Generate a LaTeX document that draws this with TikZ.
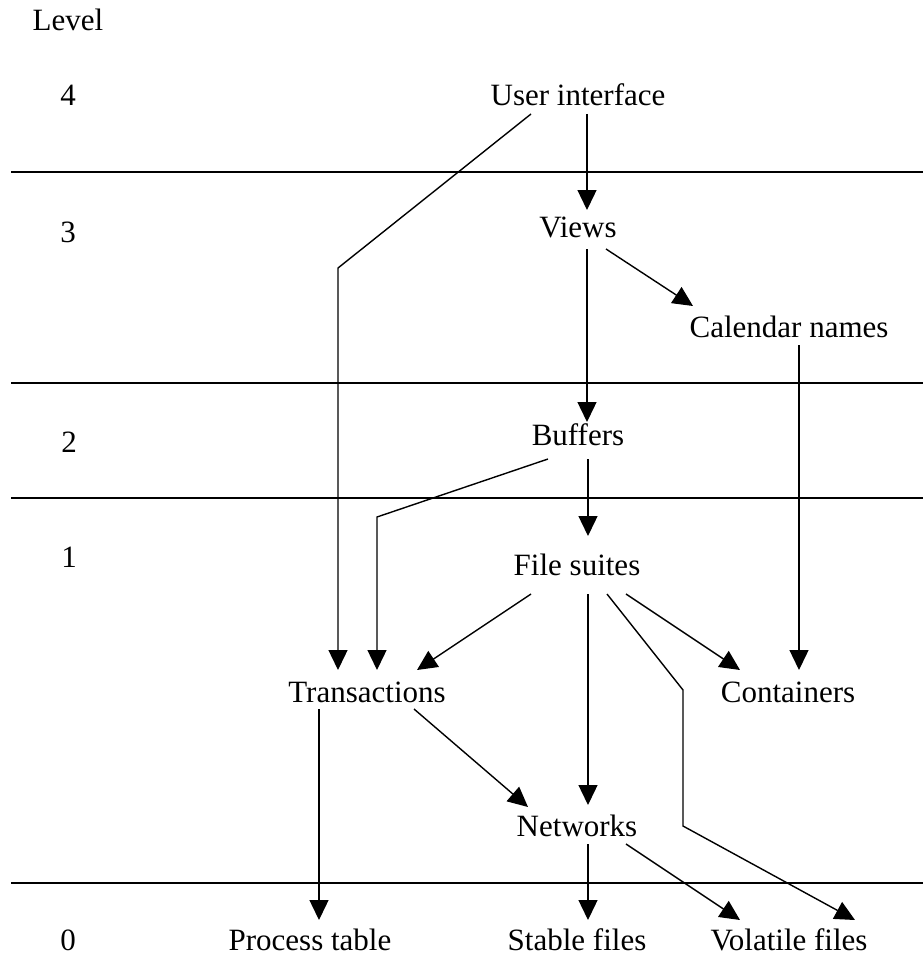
\documentclass[tikz,border=0pt]{standalone}
\usepackage{fontspec}
\setmainfont{Liberation Serif}
\usetikzlibrary{arrows.meta,calc}

\tikzset{
  lbl/.style={anchor=base,inner sep=0pt,font=\fontsize{31}{36}\selectfont},
  arr/.style={line width=1.4pt,-{Triangle[length=20pt,width=19pt]}},
  rule/.style={line width=1.4pt}
}

\begin{document}
\begin{tikzpicture}[x=1pt,y=-1pt]
        \useasboundingbox (0,0) rectangle (923,955);
        % level bands
        \foreach \y in {172,383,498,883}
          \draw[rule] (11,\y) -- (923,\y);
        \node[lbl] (level) at (68,31) {Level};
        \node[lbl] (lvfour) at (68,106) {4};
        \node[lbl] (lvthree) at (68,242) {3};
        \node[lbl] (lvtwo) at (69,452) {2};
        \node[lbl] (lvone) at (69,567) {1};
        \node[lbl] (lvzero) at (68,950) {0};
        % modules
        \node[lbl] (ui) at (578,106) {User interface};
        \node[lbl] (views) at (578,237) {Views};
        \node[lbl] (cal) at (789,337) {Calendar names};
        \node[lbl] (buf) at (578,445) {Buffers};
        \node[lbl] (fs) at (577,575) {File suites};
        \node[lbl] (trans) at (367,702) {Transactions};
        \node[lbl] (cont) at (788,702) {Containers};
        \node[lbl] (net) at (577,836) {Networks};
        \node[lbl] (proc) at (310,950) {Process table};
        \node[lbl] (stable) at (577,950) {Stable files};
        \node[lbl] (vol) at (789,950) {Volatile files};
        % bend points
        \coordinate (uibend) at (338,268);
        \coordinate (bufbend) at (377,517);
        \coordinate (fsbendA) at (683,690);
        \coordinate (fsbendB) at (683,826);
        % uses
        \draw[arr] ($(ui.base)+(9,8)$) -- ($(views.base)+(9,-27)$);
        \draw[arr] ($(ui.base)+(-47,8)$) -- (uibend) -- ($(trans.base)+(-29,-32)$);
        \draw[arr] ($(views.base)+(9,12)$) -- ($(buf.base)+(9,-23)$);
        \draw[arr] ($(views.base)+(28,12)$) -- ($(cal.base)+(-96,-31)$);
        \draw[arr] ($(buf.base)+(10,14)$) -- ($(fs.base)+(11,-39)$);
        \draw[arr] ($(buf.base)+(-30,14)$) -- (bufbend) -- ($(trans.base)+(10,-32)$);
        \draw[arr] ($(cal.base)+(10,8)$) -- ($(cont.base)+(11,-32)$);
        \draw[arr] ($(fs.base)+(-46,19)$) -- ($(trans.base)+(50,-32)$);
        \draw[arr] ($(fs.base)+(11,19)$) -- ($(net.base)+(11,-31)$);
        \draw[arr] ($(fs.base)+(49,19)$) -- ($(cont.base)+(-48,-32)$);
        \draw[arr] ($(fs.base)+(30,19)$) -- (fsbendA) -- (fsbendB) -- ($(vol.base)+(66,-30)$);
        \draw[arr] ($(trans.base)+(47,7)$) -- ($(net.base)+(-49,-29)$);
        \draw[arr] ($(trans.base)+(-48,7)$) -- ($(proc.base)+(9,-30)$);
        \draw[arr] ($(net.base)+(11,8)$) -- ($(stable.base)+(11,-30)$);
        \draw[arr] ($(net.base)+(49,8)$) -- ($(vol.base)+(-49,-30)$);
      \end{tikzpicture}
\end{document}
